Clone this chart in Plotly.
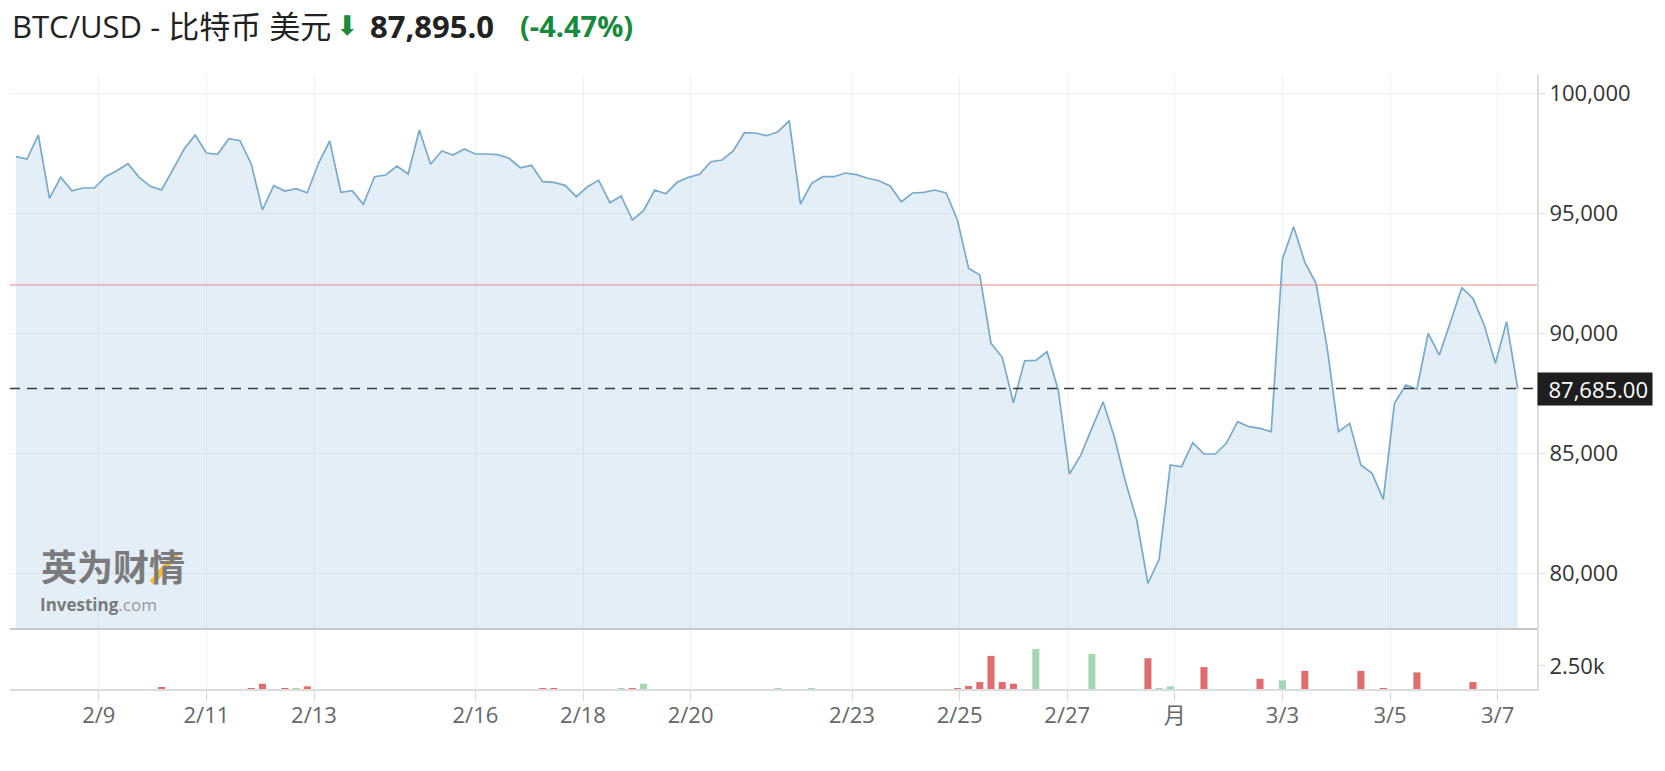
import plotly.graph_objects as go
import pandas as pd

# ---------------- data ----------------
start_time = "2025-02-07 11:00"
step = "5h"

prices = [97346, 97250, 98250, 95612, 96487, 95929, 96042, 96042, 96512, 96762,
          97054, 96487, 96112, 95958, 96800, 97654, 98250, 97500, 97446, 98096,
          98012, 97042, 95125, 96137, 95917, 96012, 95846, 97071, 98000, 95862,
          95929, 95362, 96512, 96583, 96958, 96625, 98458, 97029, 97583, 97417,
          97667, 97458, 97458, 97429, 97279, 96887, 96987, 96304, 96279, 96154,
          95679, 96096, 96362, 95429, 95708, 94708, 95096, 95958, 95804, 96279,
          96487, 96612, 97137, 97208, 97583, 98346, 98333, 98221, 98387, 98846,
          95375, 96237, 96512, 96512, 96667, 96596, 96446, 96346, 96125, 95471,
          95833, 95862, 95958, 95833, 94708, 92696, 92417, 89571, 88987, 87096,
          88846, 88860, 89221, 87625, 84125, 84900, 86029, 87137, 85679, 83804,
          82208, 79571, 80571, 84500, 84429, 85429, 84958, 84958, 85404, 86304,
          86096, 86029, 85887, 93071, 94429, 92946, 92071, 89362, 85887, 86237,
          84500, 84154, 83071, 87071, 87833, 87667, 89987, 89083, 90470, 91887,
          91446, 90333, 88737, 90471, 87685]

# volume of the bars that are visible (index of point -> volume)
volume_by_index = {13: 210, 21: 100, 22: 570, 24: 100, 25: 100, 26: 290,
                   47: 100, 48: 100, 54: 100, 55: 100, 56: 570, 68: 100, 71: 100,
                   84: 100, 85: 320, 86: 750, 87: 3570, 88: 750, 89: 570,
                   91: 4320, 96: 3790, 101: 3320, 102: 100, 103: 290, 106: 2360,
                   111: 1100, 113: 930, 115: 1960, 120: 1960, 122: 100,
                   125: 1790, 130: 750}

tick_dates = ["2025-02-09", "2025-02-11", "2025-02-13", "2025-02-16", "2025-02-18",
              "2025-02-20", "2025-02-23", "2025-02-25", "2025-02-27", "2025-03-01",
              "2025-03-03", "2025-03-05", "2025-03-07"]
tick_labels = ["2/9", "2/11", "2/13", "2/16", "2/18", "2/20", "2/23", "2/25",
               "2/27", "月", "3/3", "3/5", "3/7"]

price_ticks = [80000, 85000, 90000, 95000, 100000]
volume_ticks = [2500]
volume_tick_labels = ["2.50k"]

resistance_level = 92000
last_price = 87685
header_symbol = "BTC/USD - 比特币 美元"
header_price = "87,895.0"
header_change = "(-4.47%)"

# ---------------- derived ----------------
times = pd.date_range(start_time, periods=len(prices), freq=step)
volumes = [volume_by_index.get(i, 0) for i in range(len(prices))]
bar_colors = []
for i, p in enumerate(prices):
    up = i == 0 or p >= prices[i - 1]
    bar_colors.append("#a5d6b3" if up else "#df6d6d")

FONT = "Open Sans, Noto Sans CJK SC, sans-serif"
x_range = ["2025-02-07 08:23", "2025-03-07 17:34"]
vol_domain_top = 0.0977

fig = go.Figure()
fig.add_trace(go.Scatter(
    x=times, y=prices, mode="lines",
    line=dict(color="#78aacd", width=1.7),
    fill="tozeroy", fillcolor="rgba(120,170,210,0.2)",
    hoverinfo="skip", xaxis="x", yaxis="y"))
fig.add_trace(go.Bar(
    x=times, y=volumes, marker=dict(color=bar_colors, line=dict(width=0)),
    hoverinfo="skip", xaxis="x", yaxis="y2"))

axis_line = "#dcdcdc"
grid = "#f1f1f1"

fig.update_layout(
    width=1665, height=771,
    margin=dict(l=10, r=128, t=75, b=82),
    paper_bgcolor="white", plot_bgcolor="white",
    showlegend=False, bargap=0.37,
    font=dict(family=FONT, color="#333"),
    xaxis=dict(type="date", range=x_range, anchor="y2",
               tickmode="array", tickvals=tick_dates, ticktext=tick_labels,
               showgrid=True, gridcolor=grid, gridwidth=1,
               showline=True, linecolor=axis_line, linewidth=2,
               ticks="outside", ticklen=10, tickcolor=axis_line,
               ticklabelstandoff=-4,
               tickfont=dict(size=22, color="#666"), zeroline=False),
    yaxis=dict(domain=[vol_domain_top, 1], side="right", anchor="x",
               range=[77667, 100750], tickmode="array", tickvals=price_ticks,
               ticktext=[f"{v:,}" for v in price_ticks],
               showgrid=True, gridcolor=grid, gridwidth=1,
               showline=True, linecolor=axis_line, linewidth=2,
               ticks="outside", ticklen=6, tickcolor=axis_line,
               tickfont=dict(size=22, color="#333"), zeroline=False),
    yaxis2=dict(domain=[0, vol_domain_top], side="right", anchor="x",
                range=[0, 6470], tickmode="array", tickvals=volume_ticks,
                ticktext=volume_tick_labels, showgrid=False,
                showline=True, linecolor=axis_line, linewidth=2,
                ticks="outside", ticklen=6, tickcolor=axis_line,
                tickfont=dict(size=22, color="#333"), zeroline=False),
)

shapes = [
    dict(type="line", xref="x", yref="y", x0=x_range[0], x1=x_range[1],
         y0=resistance_level, y1=resistance_level,
         line=dict(color="#ee8585", width=1.2), layer="above"),
    dict(type="line", xref="x", yref="y", x0=x_range[0], x1=x_range[1],
         y0=last_price, y1=last_price,
         line=dict(color="#3a3a3a", width=1.5, dash="10px,7px"), layer="above"),
    dict(type="line", xref="paper", yref="paper", x0=0, x1=1,
         y0=vol_domain_top, y1=vol_domain_top,
         line=dict(color="#c8c8c8", width=2), layer="above"),
    # yellow stroke of the watermark logo
    dict(type="line", xref="paper", yref="paper",
         x0=(152 - 10) / 1527, y0=(689 - 583) / 614,
         x1=(176 - 10) / 1527, y1=(689 - 554) / 614,
         line=dict(color="#f4b932", width=6), layer="above"),
]
fig.update_layout(shapes=shapes)

ty = (689 - 25.5) / 614
annotations = [
    dict(text=f"{last_price:,.2f}", x=1, xref="paper", y=last_price, yref="y",
         xanchor="left", yanchor="middle", showarrow=False,
         font=dict(size=22, color="white", family=FONT),
         bgcolor="#1e1e1e", width=106, height=24, align="right", borderpad=4),
    dict(text=header_symbol, x=0.0, y=ty, xref="paper", yref="paper",
         xanchor="left", yanchor="middle", showarrow=False,
         font=dict(size=31, color="#222", family=FONT)),
    dict(text="⬇", x=(334 - 10) / 1527, y=ty, xref="paper", yref="paper",
         xanchor="left", yanchor="middle", showarrow=False,
         font=dict(size=27, color="#1b8a3e", family="DejaVu Sans")),
    dict(text=f"<b>{header_price}</b>", x=(368 - 10) / 1527, y=ty, xref="paper", yref="paper",
         xanchor="left", yanchor="middle", showarrow=False,
         font=dict(size=31, color="#222", family=FONT)),
    dict(text=f"<b>{header_change}</b>", x=(518 - 10) / 1527, y=ty, xref="paper", yref="paper",
         xanchor="left", yanchor="middle", showarrow=False,
         font=dict(size=29, color="#178a3e", family=FONT)),
    dict(text="<b>英为财情</b>", x=(39 - 10) / 1527, y=(689 - 565) / 614,
         xref="paper", yref="paper", xanchor="left", yanchor="middle", showarrow=False,
         font=dict(size=36, color="#7b7b7e", family="Noto Sans CJK SC")),
    dict(text="<b>Investing</b><span style='color:#9a9a9a'>.com</span>",
         x=(38 - 10) / 1527, y=(689 - 604) / 614,
         xref="paper", yref="paper", xanchor="left", yanchor="middle", showarrow=False,
         font=dict(size=17, color="#7b7b7e", family=FONT)),
]
fig.update_layout(annotations=annotations)

fig.write_html("out.html", config={"displayModeBar": False},
               post_script="document.body.style.margin='0';document.body.style.overflow='hidden';")
